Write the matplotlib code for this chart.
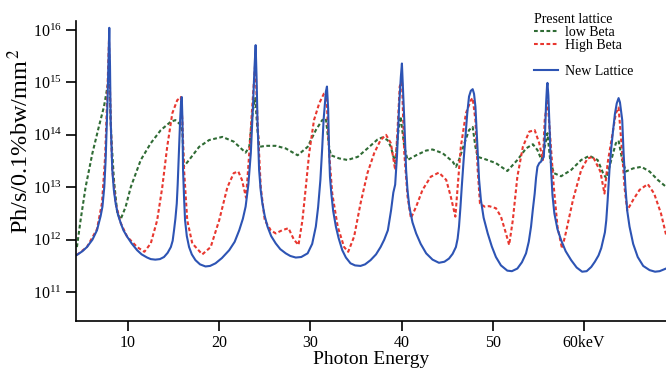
import numpy as np
import matplotlib
matplotlib.use("Agg")
import matplotlib.pyplot as plt
from matplotlib.lines import Line2D

plt.rcParams["font.family"] = ["Liberation Serif", "DejaVu Serif"]
plt.rcParams["mathtext.fontset"] = "stix"

# --- data: [energy keV, log10 brightness] ---
new_lattice = [
    [4.4, 11.71], [5.0, 11.78], [5.5, 11.86], [6.1, 12.0], [6.6, 12.18],
    [7.0, 12.45], [7.2, 12.63], [7.4, 13.0], [7.55, 13.52], [7.75, 14.60],
    [7.87, 15.5], [7.95, 16.04], [8.03, 15.3], [8.1, 14.28], [8.28, 13.33],
    [8.45, 12.95], [8.65, 12.69], [8.9, 12.48], [9.2, 12.32], [9.5, 12.18],
    [9.9, 12.06], [10.4, 11.93], [11.0, 11.80], [11.5, 11.72], [12.1, 11.66],
    [12.5, 11.63], [13.0, 11.62], [13.5, 11.63], [13.95, 11.67], [14.35, 11.75],
    [14.7, 11.86], [14.9, 11.98], [15.05, 12.18], [15.2, 12.40], [15.35, 12.69],
    [15.45, 13.05], [15.55, 13.52], [15.72, 14.28], [15.82, 14.62], [15.9, 14.72],
    [15.97, 14.3], [16.04, 13.33], [16.15, 12.8], [16.26, 12.37], [16.45, 12.07],
    [16.7, 11.86], [17.0, 11.72], [17.4, 11.61], [17.9, 11.53], [18.5, 11.49],
    [19.0, 11.50], [19.6, 11.55], [20.3, 11.65], [21.1, 11.80], [21.7, 11.96],
    [22.2, 12.18], [22.6, 12.40], [22.9, 12.63], [23.2, 13.05], [23.47, 13.65],
    [23.72, 14.60], [23.88, 15.3], [24.0, 15.71], [24.1, 15.1], [24.2, 14.28],
    [24.38, 13.33], [24.55, 12.95], [24.74, 12.69], [25.0, 12.45], [25.3, 12.25],
    [25.7, 12.07], [26.2, 11.93], [26.7, 11.82], [27.3, 11.74], [27.8, 11.69],
    [28.4, 11.66], [29.0, 11.67], [29.7, 11.74], [30.2, 11.92], [30.6, 12.25],
    [30.85, 12.62], [31.1, 13.14], [31.3, 13.75], [31.45, 14.28], [31.6, 14.62],
    [31.7, 14.82], [31.82, 14.92], [31.95, 14.5], [32.06, 13.65], [32.15, 13.2],
    [32.3, 12.88], [32.5, 12.55], [32.8, 12.25], [33.1, 12.03], [33.5, 11.80],
    [33.9, 11.66], [34.4, 11.55], [34.9, 11.51], [35.5, 11.50], [36.0, 11.53],
    [36.6, 11.61], [37.2, 11.72], [37.7, 11.86], [38.1, 12.0], [38.5, 12.18],
    [38.85, 12.56], [39.1, 12.90], [39.3, 13.05], [39.5, 13.60], [39.75, 14.60],
    [39.92, 15.1], [40.04, 15.36], [40.15, 14.9], [40.3, 14.28], [40.5, 13.33],
    [40.65, 12.95], [40.85, 12.63], [41.2, 12.33], [41.6, 12.12], [42.1, 11.92],
    [42.7, 11.74], [43.4, 11.62], [44.1, 11.56], [44.7, 11.58], [45.2, 11.64],
    [45.6, 11.73], [45.96, 11.86], [46.15, 12.02], [46.3, 12.25], [46.45, 12.6],
    [46.6, 13.00], [46.8, 13.5], [47.0, 13.96], [47.2, 14.4], [47.4, 14.73],
    [47.6, 14.84], [47.8, 14.87], [47.95, 14.78], [48.1, 14.54], [48.35, 13.65],
    [48.5, 13.15], [48.7, 12.76], [49.0, 12.42], [49.45, 12.12], [49.9, 11.87],
    [50.35, 11.67], [50.9, 11.51], [51.6, 11.41], [52.1, 11.40], [52.7, 11.45],
    [53.2, 11.57], [53.65, 11.74], [53.95, 11.96], [54.2, 12.25], [54.4, 12.58],
    [54.6, 12.88], [54.75, 13.18], [54.9, 13.39], [55.1, 13.46], [55.3, 13.49],
    [55.6, 13.58], [55.75, 14.1], [55.85, 14.60], [55.95, 14.92], [56.0, 14.99],
    [56.1, 14.75], [56.2, 14.28], [56.4, 13.33], [56.55, 12.85], [56.76, 12.50],
    [57.1, 12.20], [57.5, 11.99], [58.0, 11.78], [58.6, 11.61], [59.2, 11.47],
    [59.8, 11.39], [60.3, 11.40], [60.8, 11.48], [61.2, 11.58], [61.6, 11.70],
    [61.9, 11.84], [62.1, 11.99], [62.3, 12.14], [62.45, 12.37], [62.6, 12.75],
    [62.8, 13.33], [63.0, 13.75], [63.2, 14.09], [63.4, 14.40], [63.6, 14.60],
    [63.8, 14.70], [63.95, 14.62], [64.2, 14.28], [64.35, 13.65], [64.55, 13.00],
    [64.75, 12.55], [65.0, 12.25], [65.4, 11.92], [65.9, 11.67], [66.5, 11.50],
    [67.2, 11.42], [67.8, 11.39], [68.3, 11.40], [69.0, 11.45],
]

high_beta = [
    [4.4, 11.71], [5.5, 11.86], [6.6, 12.20], [7.15, 12.70], [7.5, 13.60],
    [7.72, 14.70], [7.92, 15.81], [8.1, 14.28], [8.28, 13.33], [8.65, 12.69],
    [9.2, 12.32], [9.9, 12.06], [11.0, 11.86], [11.8, 11.77], [12.5, 11.93],
    [13.2, 12.37], [13.76, 13.00], [14.3, 13.77], [14.86, 14.41], [15.4, 14.66],
    [15.8, 14.72], [15.96, 14.28], [16.15, 13.33], [16.5, 12.37], [17.05, 11.93],
    [18.15, 11.72], [19.07, 11.86], [20.0, 12.37], [20.9, 13.00], [21.6, 13.27],
    [22.1, 13.30], [22.5, 13.14], [22.95, 12.80], [23.3, 13.65], [23.65, 14.60],
    [23.97, 15.40], [24.2, 14.28], [24.56, 13.00], [25.0, 12.37], [25.66, 12.18],
    [26.2, 12.12], [26.9, 12.18], [27.6, 12.22], [28.2, 12.00], [28.7, 11.90],
    [29.13, 12.37], [29.5, 13.00], [29.87, 13.65], [30.4, 14.28], [30.97, 14.60],
    [31.5, 14.79], [31.75, 14.82], [32.06, 13.65], [32.4, 12.88], [33.0, 12.25],
    [33.7, 11.86], [34.15, 11.77], [34.8, 12.06], [35.5, 12.69], [36.26, 13.27],
    [37.0, 13.65], [37.7, 13.90], [38.3, 14.00], [38.83, 13.84], [39.3, 13.33],
    [39.56, 14.09], [39.8, 14.92], [40.04, 15.06], [40.3, 13.65], [40.66, 12.82],
    [41.03, 12.41], [41.6, 12.63], [42.3, 12.95], [43.2, 13.20], [44.1, 13.28],
    [44.9, 13.14], [45.4, 12.82], [45.9, 12.44], [46.15, 13.00], [46.5, 13.77],
    [47.06, 14.41], [47.6, 14.66], [47.8, 14.70], [48.1, 14.28], [48.35, 13.33],
    [48.6, 12.69], [49.1, 12.63], [49.6, 12.64], [50.35, 12.60], [50.9, 12.44],
    [51.45, 12.12], [51.8, 11.90], [52.2, 12.37], [52.7, 13.20], [53.3, 13.77],
    [54.0, 14.06], [54.6, 14.09], [55.1, 13.84], [55.5, 13.52], [55.7, 14.28],
    [56.0, 14.68], [56.3, 13.96], [56.7, 13.00], [57.1, 12.25], [57.6, 11.83],
    [58.0, 12.12], [58.8, 12.76], [59.7, 13.33], [60.4, 13.55], [61.0, 13.58],
    [61.8, 13.30], [62.25, 12.88], [62.6, 13.46], [63.2, 14.09], [63.5, 14.41],
    [63.8, 14.52], [64.2, 13.65], [64.45, 13.00], [64.75, 12.56], [65.4, 12.76],
    [66.1, 12.95], [67.0, 13.06], [67.7, 12.88], [68.45, 12.50], [69.0, 12.10],
]

low_beta = [
    [4.4, 11.86], [4.8, 12.37], [5.35, 13.00], [6.1, 13.65], [6.8, 14.15],
    [7.37, 14.54], [7.75, 14.92], [7.95, 15.05], [8.17, 13.96], [8.46, 13.14],
    [8.83, 12.50], [9.2, 12.39], [9.75, 12.63], [10.3, 13.00], [11.4, 13.52],
    [12.5, 13.84], [13.6, 14.09], [14.7, 14.25], [15.2, 14.28], [15.78, 14.19],
    [15.98, 14.05], [16.1, 13.39], [16.7, 13.52], [17.8, 13.77], [18.9, 13.90],
    [20.35, 13.96], [21.6, 13.87], [22.4, 13.74], [22.9, 13.66], [23.3, 13.77],
    [23.7, 14.47], [23.95, 14.70], [24.2, 14.09], [24.4, 13.77], [25.1, 13.79],
    [26.2, 13.79], [27.3, 13.74], [28.6, 13.61], [29.7, 13.77], [30.6, 14.09],
    [31.3, 14.28], [31.7, 14.31], [32.06, 13.77], [32.25, 13.61], [33.16, 13.55],
    [34.07, 13.52], [35.2, 13.58], [36.26, 13.74], [37.36, 13.91], [37.9, 13.95],
    [38.46, 13.90], [38.83, 13.77], [39.3, 13.46], [39.66, 14.09], [39.9, 14.35],
    [40.3, 13.77], [40.66, 13.52], [41.6, 13.61], [42.7, 13.70], [43.4, 13.72],
    [44.5, 13.65], [45.6, 13.49], [45.97, 13.39], [46.3, 13.52], [46.9, 13.84],
    [47.4, 14.09], [47.8, 14.15], [48.1, 13.77], [48.35, 13.58], [49.25, 13.53],
    [50.35, 13.46], [51.6, 13.31], [52.7, 13.52], [53.65, 13.74], [54.4, 13.82],
    [54.9, 13.71], [55.35, 13.52], [55.7, 13.77], [56.0, 14.03], [56.3, 13.52],
    [56.7, 13.27], [57.5, 13.21], [58.6, 13.33], [59.7, 13.52], [60.6, 13.60],
    [61.5, 13.52], [62.1, 13.27], [62.45, 13.17], [63.0, 13.52], [63.5, 13.84],
    [63.8, 13.89], [64.2, 13.52], [64.6, 13.30], [65.4, 13.36], [66.3, 13.39],
    [67.2, 13.30], [68.1, 13.14], [69.0, 13.01],
]

x_ticks = [10, 20, 30, 40, 50, 60]
x_tick_labels = ["10", "20", "30", "40", "50", "60keV"]

BLUE = "#2d54b4"
RED = "#e8372f"
GREEN = "#2f6b34"


def as_xy(pairs):
    arr = np.array(pairs)
    return arr[:, 0], np.power(10.0, arr[:, 1])


def main():
    fig = plt.figure(figsize=(6.66, 3.70), dpi=100)
    ax = fig.add_axes([76 / 666, 1 - 321 / 370, 1 - 76 / 666, 300 / 370])

    dots = (0, (1.8, 1.2))
    ax.plot(*as_xy(low_beta), color=GREEN, lw=1.5, linestyle=dots,
            label="low Beta")
    ax.plot(*as_xy(high_beta), color=RED, lw=1.5, linestyle=dots,
            label="High Beta")
    ax.plot(*as_xy(new_lattice), color=BLUE, lw=1.5, label="New Lattice")

    ax.set_yscale("log")
    ax.set_xlim(4.3, 69.0)
    ax.set_ylim(10 ** 10.45, 10 ** 16.17)
    ax.set_xticks(x_ticks)
    ax.set_xticklabels(x_tick_labels)
    ax.yaxis.set_minor_locator(matplotlib.ticker.NullLocator())
    ax.tick_params(direction="out", length=7, width=1.2, labelsize=11.5, pad=3)
    for side in ("top", "right"):
        ax.spines[side].set_visible(False)
    for side in ("left", "bottom"):
        ax.spines[side].set_linewidth(1.2)

    ax.set_xlabel("Photon Energy", fontsize=14, labelpad=0)
    ax.set_ylabel("Ph/s/0.1%bw/mm$^{\\,2}$", fontsize=17.5)
    ax.yaxis.set_label_coords(-0.072, 0.60)

    h = ax.get_legend_handles_labels()[0]
    blank = Line2D([], [], color="none", label=" ")
    ax.legend(handles=[h[0], h[1], blank, h[2]], title="Present lattice",
              alignment="left", loc="upper left", frameon=False,
              bbox_to_anchor=(534 / 666, 1 - 13 / 370),
              bbox_transform=fig.transFigure, borderpad=0, borderaxespad=0,
              fontsize=10, title_fontsize=10, handlelength=1.7,
              handletextpad=0.5, labelspacing=0.0)

    fig.savefig("out.png", dpi=100)
    plt.close(fig)


if __name__ == "__main__":
    main()
